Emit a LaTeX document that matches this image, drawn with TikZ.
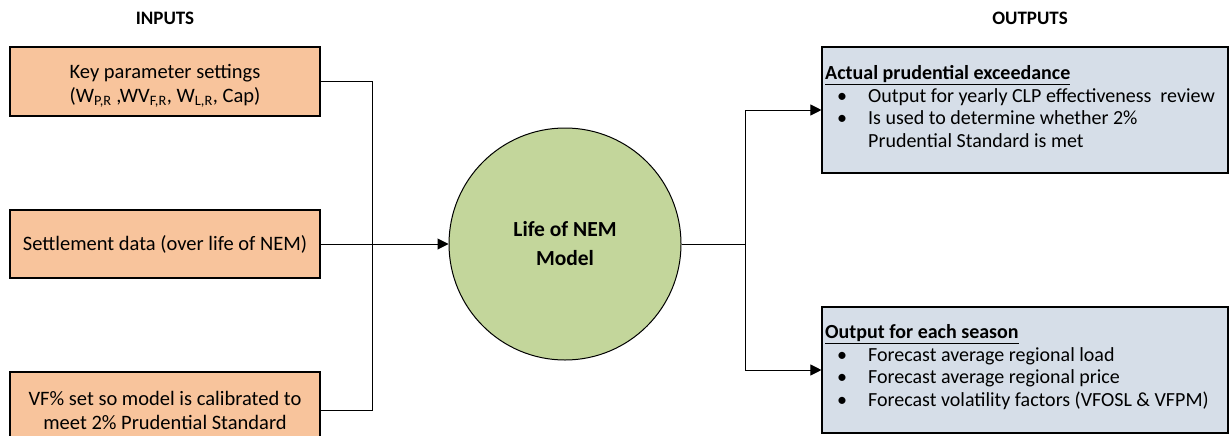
\documentclass[tikz,border=0pt]{standalone}
\usepackage{fontspec}
\setmainfont{Carlito}
\usetikzlibrary{arrows.meta}
\definecolor{inorange}{HTML}{F8C49C}
\definecolor{modgreen}{HTML}{C3D69B}
\definecolor{outblue}{HTML}{D6DEE8}
\tikzset{
  inbox/.style={draw=black, line width=1.1pt, fill=inorange, minimum width=310pt, align=center, font=\fontsize{20.5}{24}\selectfont, inner sep=0pt},
  intext/.style={align=center, font=\fontsize{20.5}{24}\selectfont, inner sep=0pt},
  outbox/.style={draw=black, line width=1.1pt, fill=outblue, minimum width=406pt, minimum height=126pt, inner sep=0pt},
  outtext/.style={anchor=north west, align=left, inner sep=0pt, font=\fontsize{20}{22.6}\selectfont},
  head/.style={font=\bfseries\fontsize{19}{22}\selectfont},
  conn/.style={line width=1pt},
  arr/.style={conn, -{Triangle[length=11pt,width=11pt]}}
}
\newcommand{\bitem}{\makebox[12pt][l]{}\makebox[31pt][l]{\textbullet}}
\begin{document}
\begin{tikzpicture}[x=1pt,y=-1pt]
\useasboundingbox (0,0) rectangle (1231,436);
\clip (0,0) rectangle (1231,436);
\node[head] (hin) at (165,18) {INPUTS};
\node[head] (hout) at (1030,18) {OUTPUTS};
\node[inbox, minimum height=69pt] (b1) at (165,81.5) {};
\node[intext] (b1t) at (165,85.5) {Key parameter settings\\(W\textsubscript{P,R} ,WV\textsubscript{F,R}, W\textsubscript{L,R}, Cap)};
\node[inbox, minimum height=68pt] (b2) at (165,244) {Settlement data (over life of NEM)};
\node[inbox, minimum height=76pt] (b3) at (165,410) {VF\% set so model is calibrated to\\meet 2\% Prudential Standard};
\node[circle, draw=black, line width=1pt, fill=modgreen, minimum size=232pt, inner sep=0pt, align=center, font=\bfseries\fontsize{21.5}{29}\selectfont] (c) at (565,244) {Life of NEM\\Model};
\node[outbox] (o1) at (1025,110) {};
\node[outbox] (o2) at (1025,370) {};
\node[outtext] (t1) at (825,65.5) {\underline{\textbf{Actual prudential exceedance}}\\
\bitem Output for yearly CLP effectiveness~ review\\
\bitem Is used to determine whether 2\%\\
\hspace*{43pt}Prudential Standard is met};
\node[outtext] (t2) at (825,324.5) {\underline{\textbf{Output for each season}}\\
\bitem Forecast average regional load\\
\bitem Forecast average regional price\\
\bitem Forecast volatility factors (VFOSL \& VFPM)};
\coordinate (bus) at (372,244);
\coordinate (split) at (745,244);
\draw[conn] (b1.east) -| (bus);
\draw[conn] (b3.east) -| (bus);
\draw[arr] (b2.east) -- (c.west);
\draw[conn] (c.east) -- (split);
\draw[arr] (split) |- (o1.west);
\draw[arr] (split) |- (o2.west);
\end{tikzpicture}
\end{document}
